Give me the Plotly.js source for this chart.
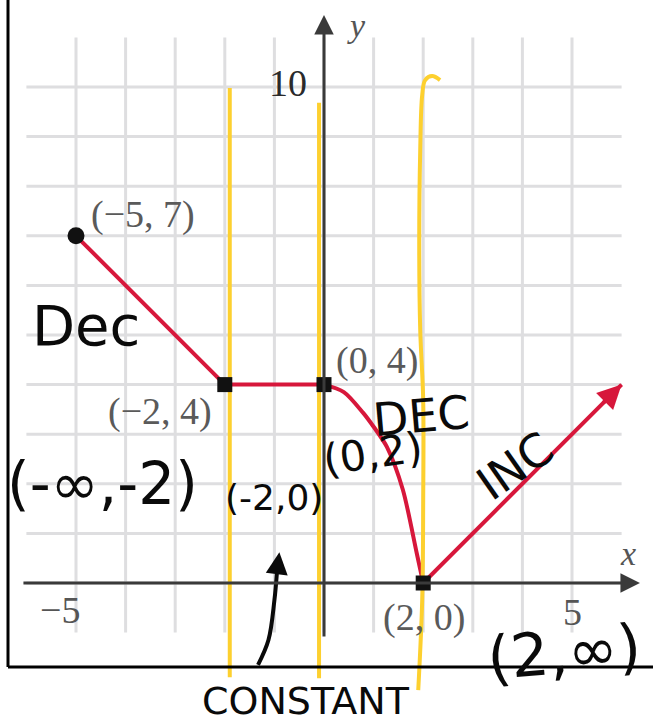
<!DOCTYPE html>
<html>
<head>
<meta charset="utf-8">
<script src="https://cdn.plot.ly/plotly-3.0.1.min.js"></script>
<style>
  html, body { margin: 0; padding: 0; background: #fff; }
  #chart { width: 653px; height: 727px; }
</style>
</head>
<body>
<div id="chart"></div>
<script>
// Piecewise function: f(x) on [-5, inf)
const seg1X = [-5, -2];
const seg1Y = [7, 4];
const seg2X = [-2, 0];
const seg2Y = [4, 4];
const curveX = [0, 0.4, 0.79, 1.0, 1.27, 1.59, 1.87, 2];
const curveY = [4, 3.85, 3.43, 3.15, 2.74, 1.88, 0.6, 0];
const rayX = [2, 6];
const rayY = [0, 4];

// Labelled points
const pointX = [-5, -2, 0, 2];
const pointY = [7, 4, 4, 0];
const pointLabels = ['(−5, 7)', '(−2, 4)', '(0, 4)', '(2, 0)'];

// Grid and ticks
const gridX = [-5, -4, -3, -2, -1, 0, 1, 2, 3, 4, 5];
const gridY = [0, 1, 2, 3, 4, 5, 6, 7, 8, 9, 10];
const gridXExtent = [-6, 6];
const gridYExtent = [-1, 11];
const tickLabelsX = ['−5', '5'];
const tickValsX = [-5, 5];
const tickLabelsY = ['10'];
const tickValsY = [10];

// Interval boundaries marked by hand
const markA_X = [-1.9, -1.9];
const markA_Y = [9.98, -1.9];
const markB_X = [-0.1, -0.1];
const markB_Y = [9.68, -1.92];
const markC_X = [2.34, 2.18, 2.04, 1.98, 1.94, 1.92, 1.94, 2.0, 2.0, 1.98, 1.9];
const markC_Y = [10.14, 10.22, 10.14, 9.84, 8.73, 6.71, 5.1, 3.69, 1.67, -0.34, -2.16];

// Hand-written notes
const noteText = ['Dec', '(-∞,-2)', '(-2,0)', 'CONSTANT', 'DEC', '(0,2)', 'INC', '(2,∞)'];

// Pointer from "CONSTANT" up to the constant interval
const pointerX = [-1.33, -1.12, -1.0, -0.95];
const pointerY = [-1.65, -1.15, -0.35, 0.2];

const W = 653, H = 727;
const X0 = 324, Y0 = 583, S = 49.6;   // origin pixel and pixels per unit
const xRange = [-X0 / S, (W - X0) / S];
const yRange = [(Y0 - H) / S, Y0 / S];

// Grid lines as one trace with breaks
const gx = [], gy = [];
gridX.forEach(v => { gx.push(v, v, null); gy.push(gridYExtent[0], gridYExtent[1], null); });
gridY.forEach(v => { gx.push(gridXExtent[0], gridXExtent[1], null); gy.push(v, v, null); });

const RED = '#d7173b';
const YELLOW = '#fdd02f';
const INK = '#0a0a0a';

const traces = [
  { x: gx, y: gy, mode: 'lines', line: { color: '#dedee0', width: 3 }, hoverinfo: 'skip' },
  { x: seg1X, y: seg1Y, mode: 'lines', line: { color: RED, width: 4 } },
  { x: seg2X, y: seg2Y, mode: 'lines', line: { color: RED, width: 4 } },
  { x: curveX, y: curveY, mode: 'lines', line: { color: RED, width: 4, shape: 'spline', smoothing: 0.8 } },
  { x: rayX, y: rayY, mode: 'lines', line: { color: RED, width: 4 } },
  { x: markA_X, y: markA_Y, mode: 'lines', line: { color: YELLOW, width: 4 } },
  { x: markB_X, y: markB_Y, mode: 'lines', line: { color: YELLOW, width: 4 } },
  { x: markC_X, y: markC_Y, mode: 'lines', line: { color: YELLOW, width: 4, shape: 'spline' } },
  { x: pointX, y: pointY, mode: 'markers',
    marker: { color: '#111', opacity: 1, line: { width: 0 },
              size: [17, 15, 15, 15], symbol: ['circle', 'square', 'square', 'square'] } },
  { x: pointerX, y: pointerY, mode: 'lines', line: { color: INK, width: 4, shape: 'spline' } }
];

const serif = 'Liberation Serif, Times New Roman, serif';
const hand = 'DejaVu Sans, sans-serif';

const annotations = [];

// Axes with arrowheads
annotations.push({ x: 6.37, y: 0, ax: -6.09, ay: 0, xref: 'x', yref: 'y', axref: 'x', ayref: 'y',
  showarrow: true, arrowhead: 2, arrowsize: 1.3, arrowwidth: 3, arrowcolor: '#3a3a3a', text: '' });
annotations.push({ x: 0, y: 11.45, ax: 0, ay: -1.11, xref: 'x', yref: 'y', axref: 'x', ayref: 'y',
  showarrow: true, arrowhead: 2, arrowsize: 1.3, arrowwidth: 3, arrowcolor: '#3a3a3a', text: '' });
// Arrowhead on the ray
annotations.push({ x: rayX[1], y: rayY[1], ax: 5.6, ay: 3.6, xref: 'x', yref: 'y', axref: 'x', ayref: 'y',
  showarrow: true, arrowhead: 2, arrowsize: 1.2, arrowwidth: 4, arrowcolor: RED, text: '' });
// Arrowhead on the pointer
annotations.push({ x: -0.9, y: 0.62, ax: pointerX[3], ay: pointerY[3], xref: 'x', yref: 'y', axref: 'x', ayref: 'y',
  showarrow: true, arrowhead: 2, arrowsize: 1.1, arrowwidth: 4, arrowcolor: INK, text: '' });

// Axis names
annotations.push({ x: 0.65, y: 11.23, text: '<i>y</i>', font: { family: serif, size: 34, color: '#555' } });
annotations.push({ x: 6.13, y: 0.6, text: '<i>x</i>', font: { family: serif, size: 34, color: '#555' } });

// Tick labels
annotations.push({ x: -0.73, y: 10.08, text: tickLabelsY[0], font: { family: serif, size: 38, color: '#2a2a2a' } });
annotations.push({ x: -5.32, y: -0.54, text: tickLabelsX[0], font: { family: serif, size: 38, color: '#555' } });
annotations.push({ x: 5.02, y: -0.58, text: tickLabelsX[1], font: { family: serif, size: 38, color: '#555' } });

// Point labels
const labelPos = [[-3.65, 7.42], [-3.31, 3.45], [1.07, 4.48], [2.02, -0.69]];
pointLabels.forEach((t, i) => annotations.push({ x: labelPos[i][0], y: labelPos[i][1], text: t,
  font: { family: serif, size: 38, color: '#5a5a5a' } }));

// Hand-written notes: [x, y, size, angle]
const notePos = [
  [-4.8, 5.2, 56, 0],
  [-4.46, 2.0, 58, 0],
  [-1.01, 1.73, 36, 0],
  [-0.36, -2.38, 38, 0],
  [1.96, 3.37, 46, -5],
  [0.99, 2.62, 42, -8],
  [3.85, 2.36, 46, -35],
  [4.84, -1.39, 60, -5]
];
noteText.forEach((t, i) => annotations.push({ x: notePos[i][0], y: notePos[i][1], text: t,
  textangle: notePos[i][3], font: { family: hand, size: notePos[i][2], color: INK } }));

annotations.forEach(a => {
  if (a.xref === undefined) { a.xref = 'x'; a.yref = 'y'; a.showarrow = false; }
});

const layout = {
  width: W, height: H,
  margin: { l: 0, r: 0, t: 0, b: 0 },
  paper_bgcolor: '#fff', plot_bgcolor: '#fff',
  showlegend: false,
  hovermode: false,
  xaxis: { range: xRange, visible: false, fixedrange: true },
  yaxis: { range: yRange, visible: false, fixedrange: true },
  annotations: annotations,
  shapes: [
    { type: 'line', xref: 'paper', yref: 'paper', x0: 8 / W, x1: 8 / W, y0: 1, y1: 1 - 667 / H,
      line: { color: '#000', width: 3 } },
    { type: 'line', xref: 'paper', yref: 'paper', x0: 8 / W, x1: 1, y0: 1 - 667 / H, y1: 1 - 667 / H,
      line: { color: '#000', width: 3 } }
  ]
};

Plotly.newPlot('chart', traces, layout, { displayModeBar: false, staticPlot: true });
</script>
</body>
</html>
